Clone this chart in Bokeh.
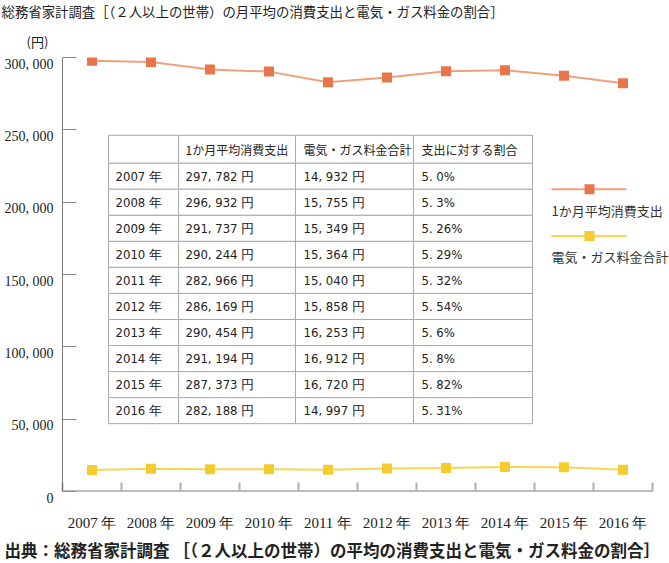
from bokeh.plotting import figure
from bokeh.models import Range1d, FixedTicker, Title
from bokeh.embed import file_html
from bokeh.resources import INLINE
from bokeh.core.properties import value

# ---------------- data ----------------
years = ["2007", "2008", "2009", "2010", "2011", "2012", "2013", "2014", "2015", "2016"]
spending = [297782, 296932, 291737, 290244, 282966, 286169, 290454, 291194, 287373, 282188]
energy = [14932, 15755, 15349, 15364, 15040, 15858, 16253, 16912, 16720, 14997]
ratio = ["5.0%", "5.3%", "5.26%", "5.29%", "5.32%", "5.54%", "5.6%", "5.8%", "5.82%", "5.31%"]
y_ticks = [0, 50000, 100000, 150000, 200000, 250000, 300000]
series_names = ["1か月平均消費支出", "電気・ガス料金合計"]
table_header = ["", "1か月平均消費支出", "電気・ガス料金合計", "支出に対する割合"]
title_text = "総務省家計調査［（２人以上の世帯）の月平均の消費支出と電気・ガス料金の割合］"
unit_text = "(円)"
source_text = "出典：総務省家計調査 ［（２人以上の世帯）の平均の消費支出と電気・ガス料金の割合］"

# ---------------- layout ----------------
W, H = 669, 563
FL, FT, FB = 62, 57, 492
STEP = 59.0                      # px per category
FR = W                           # frame runs to the right edge (legend text lives there)
X0 = -0.5
X1 = X0 + (FR - FL) / STEP
Y0, Y1 = 0, 300000


def px2x(cx):
    return X0 + (cx - FL) / STEP


def px2y(cy):
    return Y0 + (FB - cy) / (FB - FT) * (Y1 - Y0)


def fmt(n):
    return f"{n:,}".replace(",", ", ")


idx = list(range(len(years)))
year_labels = [y + " 年" for y in years]

p = figure(width=W, height=H, x_range=Range1d(X0, X1), y_range=Range1d(Y0, Y1),
           output_backend="svg", toolbar_location=None,
           min_border_left=FL, min_border_right=0,
           min_border_top=FT, min_border_bottom=H - FB)
p.outline_line_color = None
p.grid.grid_line_color = None
p.background_fill_color = "white"
p.border_fill_color = "white"

serif = "Liberation Serif"
cjk = "Noto Sans CJK JP"
axis_col = "#7a7a7a"

# y axis (labels sit just below their tick, as in the original)
yax = p.yaxis[0]
yax.ticker = FixedTicker(ticks=y_ticks)
yax.major_label_overrides = {t: "\n" + fmt(t) for t in y_ticks}
yax.major_tick_in = 14
yax.major_tick_out = 0
yax.minor_tick_line_color = None
yax.axis_line_color = axis_col
yax.major_tick_line_color = "#8a8a8a"
yax.major_label_text_font = serif
yax.major_label_text_font_size = "14px"
yax.major_label_text_line_height = 0.9
yax.major_label_text_color = "#222222"
yax.major_label_standoff = 9

# x axis (line drawn only over the category span)
xax = p.xaxis[0]
xax.ticker = FixedTicker(ticks=idx, minor_ticks=[i - 0.5 for i in range(len(years) + 1)])
xax.major_label_overrides = {i: year_labels[i] for i in idx}
xax.major_tick_line_color = None
xax.minor_tick_in = 9
xax.minor_tick_out = 0
xax.minor_tick_line_color = "#b0b0b0"
xax.minor_tick_line_width = 2
xax.axis_line_color = None
xax.major_label_text_font = serif
xax.major_label_text_font_size = "15px"
xax.major_label_text_color = "#222222"
xax.major_label_standoff = 17
p.segment(x0=[idx[0] - 0.5], y0=[Y0], x1=[idx[-1] + 0.5], y1=[Y0],
          line_color=axis_col, line_width=2)

# series
orange_line, orange_mk = "#F2A07C", "#E8764A"
yellow_line, yellow_mk = "#F6D656", "#F5CB2E"

p.line(idx, spending, line_color=orange_line, line_width=2)
p.scatter(idx, spending, marker="square", size=10, fill_color=orange_mk, line_color=None)
p.line(idx, energy, line_color=yellow_line, line_width=2)
p.scatter(idx, energy, marker="square", size=10, fill_color=yellow_mk, line_color=None)

# ---------------- table ----------------
col_px = [108, 178, 295, 413, 532]
row_px = [135, 163] + [163 + (424 - 163) / len(years) * (i + 1) for i in range(len(years))]
lefts, rights, tops, bottoms = [], [], [], []
for r in range(len(row_px) - 1):
    for c in range(len(col_px) - 1):
        lefts.append(px2x(col_px[c]))
        rights.append(px2x(col_px[c + 1]))
        tops.append(px2y(row_px[r]))
        bottoms.append(px2y(row_px[r + 1]))
p.quad(left=lefts, right=rights, top=tops, bottom=bottoms,
       fill_color="white", line_color="#a8a8a8", line_width=1)

pad = [7, 7, 8, 8]
row_mid = [(row_px[r] + row_px[r + 1]) / 2 for r in range(len(row_px) - 1)]
p.text(x=[px2x(col_px[c] + pad[c]) for c in range(1, 4)], y=[px2y(row_mid[0])] * 3,
       text=table_header[1:], text_font=value(cjk), text_font_size="12px",
       text_color="#222222", text_baseline="middle", text_align="left")
cols = [year_labels, [fmt(v) + " 円" for v in spending], [fmt(v) + " 円" for v in energy],
        [r.replace(".", ". ") for r in ratio]]
for c in range(4):
    p.text(x=[px2x(col_px[c] + pad[c])] * len(years), y=[px2y(m) for m in row_mid[1:]],
           text=cols[c], text_font=value("DejaVu Sans Condensed"), text_font_size="13px",
           text_color="#222222", text_baseline="middle", text_align="left")

# ---------------- legend ----------------
leg = [(189, orange_line, orange_mk, 210), (236, yellow_line, yellow_mk, 256)]
for k, (ly, lc, mc, ty) in enumerate(leg):
    p.line([px2x(551), px2x(626)], [px2y(ly)] * 2, line_color=lc, line_width=2)
    p.scatter([px2x(589)], [px2y(ly)], marker="square", size=10, fill_color=mc, line_color=None)
    p.text(x=[px2x(551)], y=[px2y(ty)], text=[series_names[k]], text_font=value(cjk),
           text_font_size="13px", text_color="#333333", text_baseline="middle",
           text_align="left")

# ---------------- titles ----------------
p.title.visible = False
p.add_layout(Title(text=unit_text, align="left", offset=-36, text_font=cjk,
                   text_font_size="13px", text_font_style="normal", text_color="#222222",
                   standoff=13), "above")
p.add_layout(Title(text=title_text, align="left", offset=-61, text_font=cjk,
                   text_font_size="13.4px", text_font_style="normal", text_color="#222222",
                   vertical_align="top", standoff=1), "above")
p.add_layout(Title(text=source_text, align="left", offset=-58, text_font=cjk,
                   text_font_size="16.5px", text_font_style="bold", text_color="#222222",
                   standoff=4), "below")

open("out.html", "w").write(file_html(p, INLINE))
